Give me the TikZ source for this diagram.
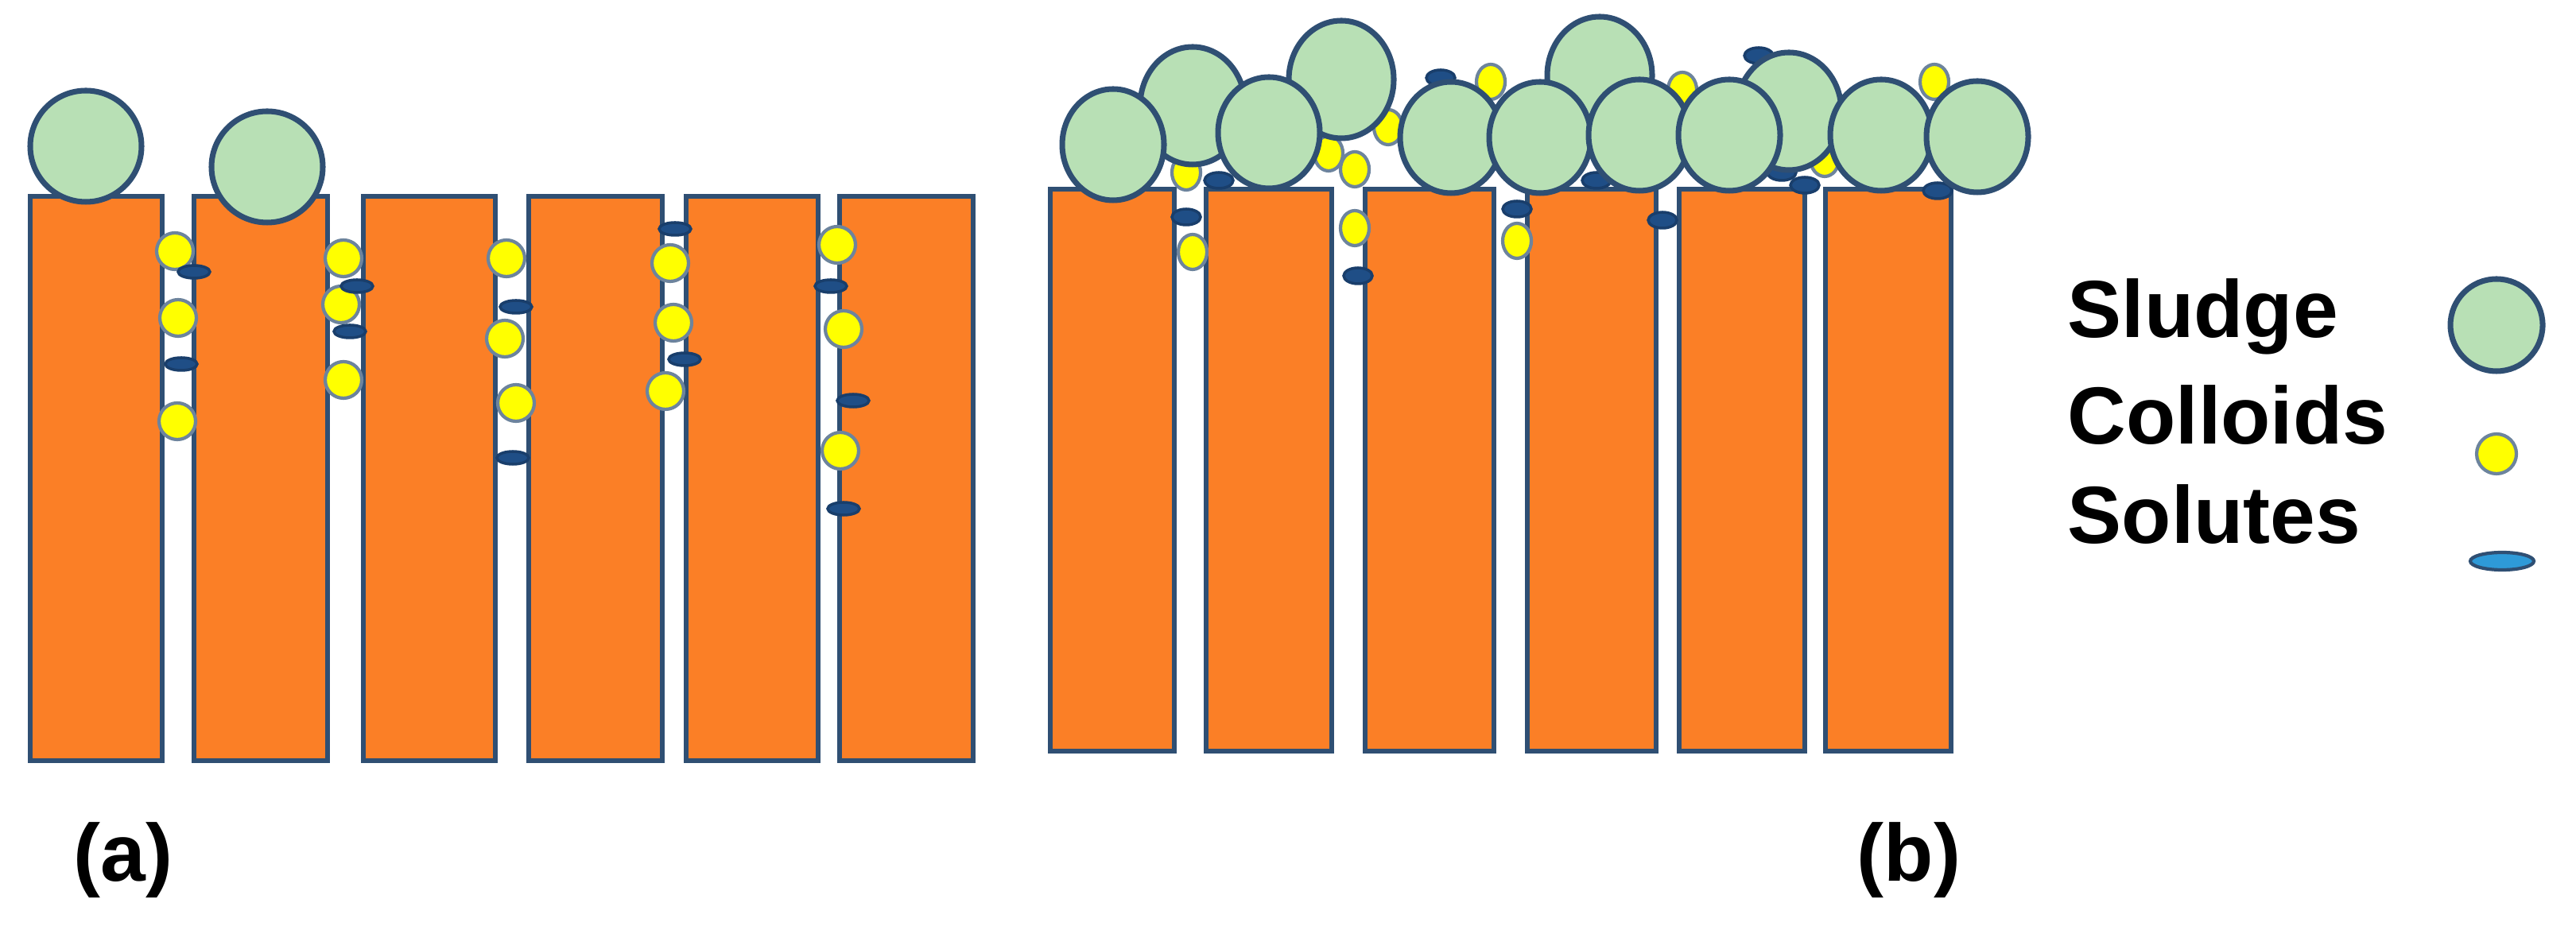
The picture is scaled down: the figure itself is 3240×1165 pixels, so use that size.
\documentclass[tikz,border=0pt]{standalone}
\usepackage{fontspec}
\setmainfont{Liberation Sans}
\definecolor{pill}{HTML}{FB7F26}
\definecolor{edge}{HTML}{2F4F73}
\definecolor{sludge}{HTML}{B8E0B5}
\definecolor{coll}{HTML}{FFFF00}
\definecolor{solu}{HTML}{1F4E86}
\definecolor{solul}{HTML}{2E9AD8}
\tikzset{
  pillar/.style={fill=pill,draw=edge,line width=1.6pt},
  sludgec/.style={fill=sludge,draw=edge,line width=2pt},
  collc/.style={fill=coll,draw=edge!70,line width=1.2pt},
  solc/.style={fill=solu,draw=solu!80!black,line width=1pt},
  lbl/.style={font=\bfseries\fontsize{29}{34}\selectfont,anchor=west,inner sep=0pt}
}
\begin{document}
\begin{tikzpicture}[x=0.01cm,y=-0.01cm]
\useasboundingbox (0,0) rectangle (3240,1165);
% panel (a) pillars
\foreach \a/\b in {38/204,244/412,457/623,665/833,863/1029,1056/1224}
  \draw[pillar] (\a,247) rectangle (\b,957);
\draw[sludgec] (108,184) circle (70);
\draw[sludgec] (336,210) circle (70);
\foreach \x/\y in {220/316,224/400,223/530,432/325,429/383,432/478,637/325,635/426,649/507,843/331,847/406,837/492,1053/308,1061/414,1057/567}
  \draw[collc] (\x,\y) circle (23);
\foreach \x/\y in {244/342,228/458,449/360,440/417,649/386,645/576,849/288,861/452,1045/360,1073/504,1061/640}
  \draw[solc] (\x,\y) ellipse (20 and 8);
% panel (b) pillars
\foreach \a/\b in {1321/1477,1517/1675,1717/1879,1921/2083,2112/2270,2296/2454}
  \draw[pillar] (\a,238) rectangle (\b,945);
% colloids behind sludge
\foreach \x/\y in {1492/217,1671/193,1746/160,1704/213,1875/103,2116/113,2433/103,2295/200}
  \draw[collc] (\x,\y) ellipse (18 and 22);
\foreach \x/\y in {1812/98,2212/70,1533/227,2008/227,2241/217,2270/233,2437/240}
  \draw[solc] (\x,\y) ellipse (18 and 10);
% sludge back row
\foreach \x/\y in {1500/133,1687/100,2012/95,2250/140}
  \draw[sludgec] (\x,\y) ellipse (66 and 74);
% sludge front row
\foreach \x/\y in {1400/182,1596/167,1825/173,1937/173,2062/170,2175/170,2366/170,2487/172}
  \draw[sludgec] (\x,\y) ellipse (64 and 70);
% colloids & solutes in pores
\foreach \x/\y in {1704/287,1500/317,1908/303}
  \draw[collc] (\x,\y) ellipse (18 and 22);
\foreach \x/\y in {1492/273,1708/347,1908/263,2091/277}
  \draw[solc] (\x,\y) ellipse (18 and 10);
% legend
\node[lbl] (ls) at (2600,398) {Sludge};
\node[lbl] (lc) at (2600,522) {Colloids};
\node[lbl] (lo) at (2600,647) {Solutes};
\draw[sludgec] (3140,409) circle (58);
\draw[collc] (3140,571) circle (25);
\draw[fill=solul,draw=edge,line width=1.2pt] (3147,706) ellipse (40 and 11);
\node[lbl] (la) at (92,1082) {(a)};
\node[lbl] (lb) at (2335,1082) {(b)};
\end{tikzpicture}
\end{document}
